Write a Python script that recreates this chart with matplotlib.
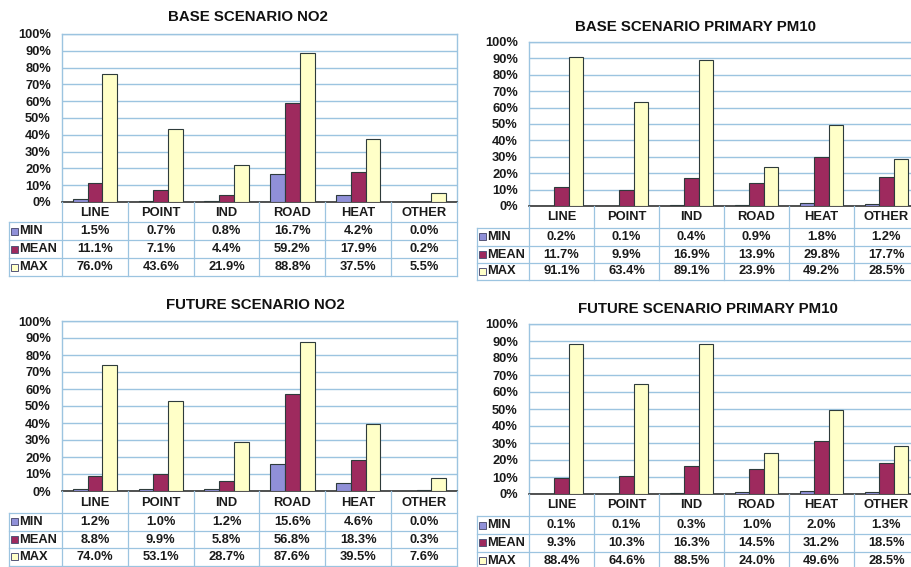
import matplotlib
matplotlib.use("Agg")
import matplotlib.pyplot as plt
from matplotlib.patches import Rectangle

plt.rcParams['font.family'] = ['Liberation Sans', 'DejaVu Sans']

categories = ['LINE', 'POINT', 'IND', 'ROAD', 'HEAT', 'OTHER']
series_names = ['MIN', 'MEAN', 'MAX']

# percentages per category
base_no2_min = [1.5, 0.7, 0.8, 16.7, 4.2, 0.0]
base_no2_mean = [11.1, 7.1, 4.4, 59.2, 17.9, 0.2]
base_no2_max = [76.0, 43.6, 21.9, 88.8, 37.5, 5.5]

base_pm10_min = [0.2, 0.1, 0.4, 0.9, 1.8, 1.2]
base_pm10_mean = [11.7, 9.9, 16.9, 13.9, 29.8, 17.7]
base_pm10_max = [91.1, 63.4, 89.1, 23.9, 49.2, 28.5]

future_no2_min = [1.2, 1.0, 1.2, 15.6, 4.6, 0.0]
future_no2_mean = [8.8, 9.9, 5.8, 56.8, 18.3, 0.3]
future_no2_max = [74.0, 53.1, 28.7, 87.6, 39.5, 7.6]

future_pm10_min = [0.1, 0.1, 0.3, 1.0, 2.0, 1.3]
future_pm10_mean = [9.3, 10.3, 16.3, 14.5, 31.2, 18.5]
future_pm10_max = [88.4, 64.6, 88.5, 24.0, 49.6, 28.5]

titles = ['BASE SCENARIO NO2', 'BASE SCENARIO PRIMARY PM10',
          'FUTURE SCENARIO NO2', 'FUTURE SCENARIO PRIMARY PM10']

colors = ['#9090D8', '#9E2A5E', '#FFFFC8']
edge = '#2E3B3B'
grid_col = '#9CC4E0'
txt_col = '#1A1A1A'
fs = 9.3
W, H = 912, 567

fig = plt.figure(figsize=(W / 100, H / 100), dpi=100)
fig.patch.set_facecolor('white')

# overlay in pixel coordinates for titles and data tables
over = fig.add_axes([0, 0, 1, 1], zorder=5)
over.set_xlim(0, W)
over.set_ylim(H, 0)
over.axis('off')
over.patch.set_alpha(0)

# layout: plot left/right/top/bottom, table left, row lines, title pos
panels = [
    dict(l=62, r=457, t=34, b=202, tl=9, rows=[222, 240, 258, 276], tx=248, ty=17,
         data=[base_no2_min, base_no2_mean, base_no2_max]),
    dict(l=529, r=919, t=42, b=206, tl=477, rows=[228, 245.5, 262.5, 279.5], tx=696, ty=27,
         data=[base_pm10_min, base_pm10_mean, base_pm10_max]),
    dict(l=62, r=457, t=321, b=491, tl=9, rows=[513, 530.5, 548, 565.5], tx=255, ty=305,
         data=[future_no2_min, future_no2_mean, future_no2_max]),
    dict(l=529, r=919, t=324, b=494, tl=477, rows=[516, 534, 551.5, 569], tx=708, ty=309,
         data=[future_pm10_min, future_pm10_mean, future_pm10_max]),
]

n = len(categories)
bw = 0.225

for p, title in zip(panels, titles):
    ax = fig.add_axes([p['l'] / W, 1 - p['b'] / H, (p['r'] - p['l']) / W, (p['b'] - p['t']) / H])
    for k, vals in enumerate(p['data']):
        xs = [i + (k - 1) * bw for i in range(n)]
        ax.bar(xs, [v / 100 for v in vals], width=bw, color=colors[k],
               edgecolor=edge, linewidth=0.8, zorder=3)
    ax.set_xlim(-0.5, n - 0.5)
    ax.set_ylim(0, 1)
    ax.set_yticks([i / 10 for i in range(11)])
    ax.set_yticklabels(['%d%%' % (i * 10) for i in range(11)],
                       fontsize=fs, fontweight='bold', color=txt_col)
    ax.set_xticks([])
    ax.tick_params(axis='y', length=0, pad=8)
    ax.grid(axis='y', color=grid_col, linewidth=1.0, zorder=0)
    for s in ['left', 'top', 'right']:
        ax.spines[s].set_color(grid_col)
        ax.spines[s].set_linewidth(1.0)
    ax.spines['bottom'].set_color('#333333')
    ax.spines['bottom'].set_linewidth(1.2)

    over.text(p['tx'], p['ty'], title, ha='center', va='center',
              fontsize=10.8, fontweight='bold', color='#111111')

    # data table below the plot
    cw = (p['r'] - p['l']) / n
    rows = p['rows']
    for i in range(n + 1):
        x = p['l'] + i * cw
        over.plot([x, x], [p['b'], rows[-1]], color=grid_col, lw=0.9)
    over.plot([p['tl'], p['tl']], [rows[0], rows[-1]], color=grid_col, lw=0.9)
    for y in rows:
        over.plot([p['tl'], p['r']], [y, y], color=grid_col, lw=0.9)
    for i, c in enumerate(categories):
        over.text(p['l'] + (i + 0.5) * cw, (p['b'] + rows[0]) / 2 + 0.5, c,
                  ha='center', va='center', fontsize=fs, fontweight='bold', color=txt_col)
    for k, (name, vals) in enumerate(zip(series_names, p['data'])):
        yc = (rows[k] + rows[k + 1]) / 2
        over.add_patch(Rectangle((p['tl'] + 2, yc - 3.5), 7, 7, facecolor=colors[k],
                                 edgecolor='#555577', lw=0.7))
        over.text(p['tl'] + 10, yc + 0.5, name, ha='left', va='center',
                  fontsize=fs, fontweight='bold', color=txt_col)
        for i, v in enumerate(vals):
            over.text(p['l'] + (i + 0.5) * cw, yc + 0.5, '%.1f%%' % v,
                      ha='center', va='center', fontsize=fs, fontweight='bold', color=txt_col)

fig.savefig('out.png', dpi=100)
